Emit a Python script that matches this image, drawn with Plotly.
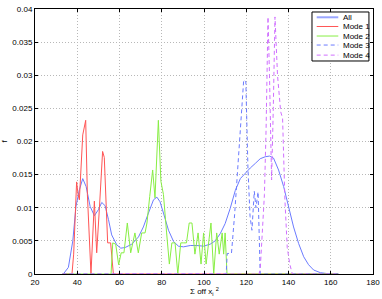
import plotly.graph_objects as go

# "All" density curve
all_x = [33.4, 35.8, 37.9, 39.4, 41.0, 42.6, 44.2, 46.1, 48.1, 50.0, 51.6, 53.2, 54.8, 56.3, 58.7,
         60.6, 62.7, 65.8, 69.0, 71.3, 73.7, 76.1, 77.7, 79.2, 80.8, 83.2, 85.6, 87.9, 90.3, 93.5,
         96.6, 99.8, 102.9, 105.3, 107.7, 110.0, 112.4, 114.8, 117.2, 119.5, 121.9, 124.3, 126.6,
         129.0, 131.0, 132.9, 135.3, 137.7, 140.1, 142.4, 144.8, 147.2, 149.5, 151.9, 155.1, 159.8, 163.7]
all_y = [0.0, 0.001, 0.005, 0.0102, 0.0127, 0.0144, 0.0132, 0.0102, 0.0088, 0.0097, 0.0108, 0.0103,
         0.0082, 0.0059, 0.0044, 0.0039, 0.0040, 0.0045, 0.0056, 0.0071, 0.0092, 0.0112, 0.0116,
         0.0109, 0.0092, 0.0066, 0.0049, 0.0042, 0.0041, 0.0043, 0.0043, 0.0042, 0.0045, 0.0050,
         0.0061, 0.0076, 0.0099, 0.0126, 0.0144, 0.0152, 0.0160, 0.0167, 0.0174, 0.0177, 0.0178,
         0.0175, 0.0157, 0.0132, 0.0102, 0.0071, 0.0046, 0.0026, 0.0014, 0.0006, 0.0002, 0.0, 0.0]

mode1_x = [33.0, 37.5, 38.3, 39.7, 40.4, 41.0, 42.6, 44.0, 44.8, 46.5, 48.1, 49.2, 50.5, 52.0, 52.8,
           54.4, 55.8, 57.1, 163.5]
mode1_y = [0, 0, 0.003, 0.0139, 0.012, 0.0112, 0.021, 0.0232, 0.012, 0, 0.011, 0.0032, 0.010,
           0.0185, 0.0176, 0.0047, 0.0047, 0, 0]

mode2_x = [33.0, 56.0, 56.8, 58.2, 59.6, 60.8, 62.1, 63.7, 65.3, 67.3, 68.9, 70.5, 72.1, 73.0, 74.3,
           75.7, 76.8, 78.4, 79.6, 80.8, 82.3, 83.6, 84.8, 86.3, 87.6, 89.0, 90.3, 91.7, 93.0, 94.3,
           95.7, 97.2, 98.6, 99.8, 101.0, 102.0, 103.3, 104.6, 106.0, 107.2, 108.6, 109.3, 110.0,
           110.9, 163.5]
mode2_y = [0, 0, 0.0047, 0.0045, 0.0014, 0.0032, 0.0032, 0.0077, 0.0032, 0.0062, 0.0032, 0.0062,
           0.0062, 0.0077, 0.0117, 0.0157, 0.0115, 0.0232, 0.0140, 0.0120, 0.0062, 0.0015, 0.0047,
           0.0047, 0, 0.0047, 0.0047, 0.0047, 0.0077, 0.0077, 0.0030, 0.0062, 0.0015, 0.0062,
           0.0015, 0.0047, 0.0077, 0, 0.0062, 0.0030, 0.0062, 0.0030, 0.0062, 0, 0]

mode3_x = [33.0, 110.5, 111.0, 113.0, 114.5, 116.0, 117.5, 118.8, 119.8, 120.8, 121.8, 122.7,
           123.8, 124.6, 125.6, 126.6, 163.5]
mode3_y = [0, 0, 0.0031, 0.0031, 0.009, 0.016, 0.023, 0.0293, 0.029, 0.016, 0.0087, 0.0066,
           0.0125, 0.010, 0.0124, 0, 0]

mode4_x = [33.0, 126.0, 126.6, 127.6, 128.6, 129.4, 130.3, 131.0, 132.0, 132.8, 133.6, 134.8,
           136.3, 137.2, 138.3, 139.4, 140.6, 141.8, 163.5]
mode4_y = [0, 0, 0.0006, 0.0066, 0.012, 0.022, 0.0388, 0.030, 0.0142, 0.025, 0.0388, 0.030,
           0.0245, 0.0235, 0.0112, 0.004, 0.0015, 0, 0]

series_names = ["All", "Mode 1", "Mode 2", "Mode 3", "Mode 4"]
series_colors = ["#6b7bff", "#ff5555", "#88ee44", "#6b7bff", "#d070ff"]
series_dash = ["solid", "solid", "solid", "4px,3px", "4px,3px"]

x_ticks = [20, 40, 60, 80, 100, 120, 140, 160, 180]
y_ticks = [0, 0.005, 0.01, 0.015, 0.02, 0.025, 0.03, 0.035, 0.04]
y_tick_labels = ["0", "0.005", "0.01", "0.015", "0.02", "0.025", "0.03", "0.035", "0.04"]

fig = go.Figure()
for xs, ys, nm, col, dsh in zip([all_x, mode1_x, mode2_x, mode3_x, mode4_x],
                                [all_y, mode1_y, mode2_y, mode3_y, mode4_y],
                                series_names, series_colors, series_dash):
    fig.add_trace(go.Scatter(x=xs, y=ys, mode="lines", name=nm, showlegend=False,
                             line=dict(color=col, width=1, dash=dsh)))

axis_common = dict(
    showline=True, linecolor="black", linewidth=1, mirror="ticks",
    ticks="inside", ticklen=3, tickcolor="black",
    showgrid=True, gridcolor="#b8b8b8", griddash="1px,2px", gridwidth=1,
    zeroline=False, tickfont=dict(size=8, color="black"), automargin=False,
)

# Custom compact legend (MATLAB style box)
shapes = [dict(type="rect", xref="paper", yref="paper", x0=0.8195, x1=0.988, y0=0.8038, y1=0.9887,
               line=dict(color="black", width=1), fillcolor="white", layer="above")]
annotations = []
entry_y = [0.9687, 0.934, 0.898, 0.864, 0.826]
for i, (nm, col, dsh) in enumerate(zip(series_names, series_colors, series_dash)):
    shapes.append(dict(type="line", xref="paper", yref="paper", x0=0.8334, x1=0.8973,
                       y0=entry_y[i], y1=entry_y[i], layer="above",
                       line=dict(color=("#9aa6ff" if i == 0 else col), width=2 if i == 0 else 1, dash=dsh)))
    annotations.append(dict(xref="paper", yref="paper", x=0.9044, y=entry_y[i], text=nm,
                            showarrow=False, xanchor="left", yanchor="middle",
                            font=dict(size=8, color="black")))

annotations.append(dict(xref="paper", yref="paper", x=0.5, y=0, yshift=-10, text="Σ off x<sub>i</sub> <sup>2</sup>",
                        showarrow=False, xanchor="center", yanchor="top", font=dict(size=8, color="black")))
annotations.append(dict(xref="paper", yref="paper", x=0, xshift=-31, y=0.5, text="f", textangle=-90,
                        showarrow=False, xanchor="center", yanchor="middle", font=dict(size=8, color="black")))

fig.update_layout(
    width=382, height=299,
    margin=dict(l=35, r=9, t=9, b=25),
    paper_bgcolor="white", plot_bgcolor="white",
    font=dict(family="Liberation Sans, Arial, sans-serif", size=8, color="black"),
    xaxis=dict(range=[20, 180], tickvals=x_ticks, **axis_common),
    yaxis=dict(range=[0, 0.04], tickvals=y_ticks, ticktext=y_tick_labels, **axis_common),
    shapes=shapes, annotations=annotations,
    showlegend=False,
)

fig.write_html("out.html", config={"displayModeBar": False},
               post_script="document.body.style.margin='0';document.body.style.overflow='hidden';")
